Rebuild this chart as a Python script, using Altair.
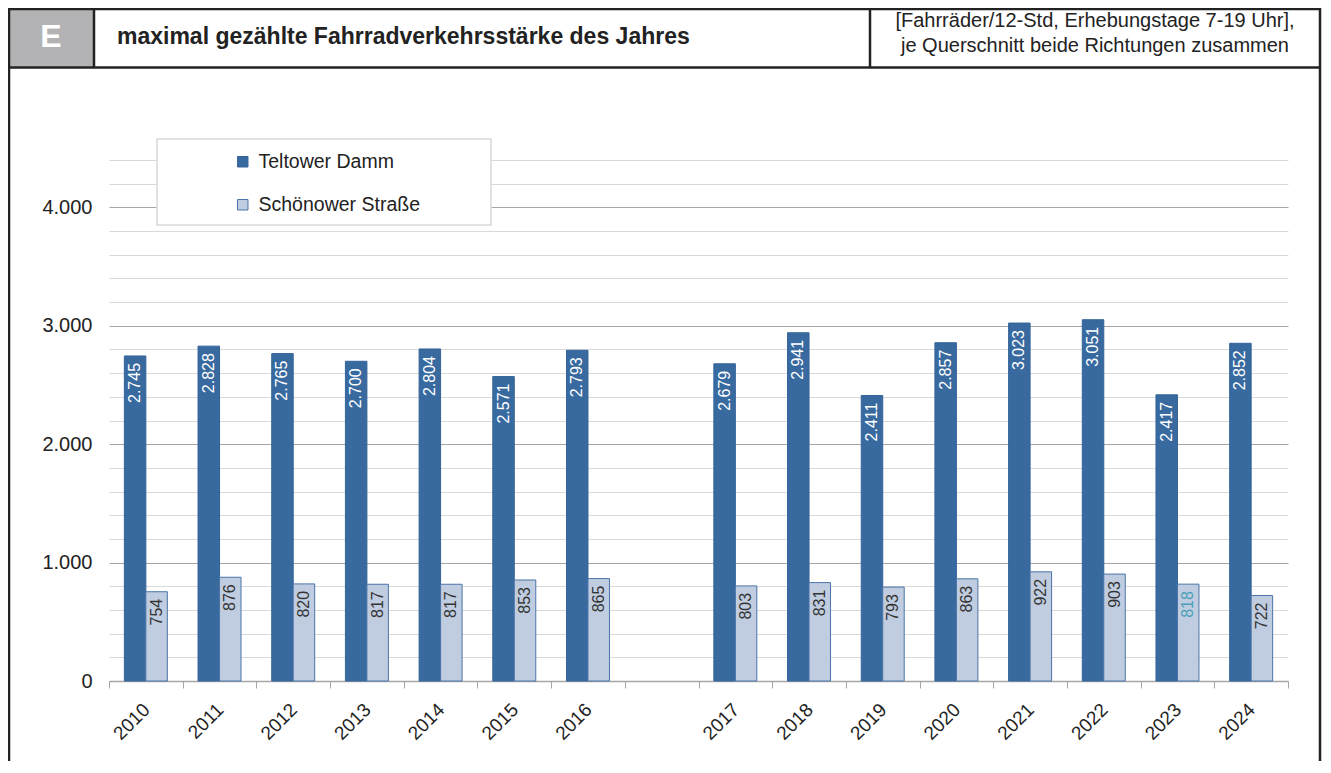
import altair as alt
import pandas as pd

# ---- data ----
years = ["2010", "2011", "2012", "2013", "2014", "2015", "2016",
         "2017", "2018", "2019", "2020", "2021", "2022", "2023", "2024"]
teltower = [2745, 2828, 2765, 2700, 2804, 2571, 2793,
            2679, 2941, 2411, 2857, 3023, 3051, 2417, 2852]
schoenower = [754, 876, 820, 817, 817, 853, 865,
              803, 831, 793, 863, 922, 903, 818, 722]
series_names = ["Teltower Damm", "Schönower Straße"]
x_domain = years[:7] + [" "] + years[7:]   # blank slot between 2016 and 2017

rows = []
for y, a, b in zip(years, teltower, schoenower):
    rows.append({"year": y, "series": series_names[0], "value": a,
                 "label": f"{a:,}".replace(",", ".")})
    rows.append({"year": y, "series": series_names[1], "value": b,
                 "label": f"{b:,}".replace(",", ".")})
df = pd.DataFrame(rows)

FONT = "Liberation Sans"
DARK = "#386a9f"
LIGHT = "#c0cde0"

W, H = 1179, 521
PL, PT, PR, PB = 101, 152, 34, 80

x_enc = alt.X("year:N", sort=x_domain,
              scale=alt.Scale(domain=x_domain, paddingInner=0, paddingOuter=0),
              axis=alt.Axis(title=None, labelAngle=-45, labelAlign="right",
                            labelBaseline="top", labelFontSize=19, labelColor="#222",
                            labelPadding=12, labelOffset=-6, tickBand="extent", tickSize=7,
                            tickColor="#a6a6a6", domainColor="#a6a6a6",
                            domainWidth=1.5, grid=False))
xo_enc = alt.XOffset("series:N", sort=series_names,
                     scale=alt.Scale(domain=series_names, paddingInner=0, paddingOuter=0.714))
y_enc = alt.Y("value:Q",
              scale=alt.Scale(domain=[0, 4400], nice=False),
              axis=alt.Axis(title=None, values=list(range(0, 4401, 200)),
                            labelExpr="datum.value % 1000 === 0 ? replace(format(datum.value, ','), ',', '.') : ''",
                            labelFontSize=20, labelColor="#222", labelPadding=17,
                            ticks=False, domain=False, grid=True,
                            gridColor={"condition": {"test": "datum.value % 1000 === 0", "value": "#a6a6a6"},
                                       "value": "#d9d9d9"},
                            gridWidth=1))

base = alt.Chart(df)

bars = base.mark_bar(strokeWidth=1).encode(
    x=x_enc, xOffset=xo_enc, y=y_enc,
    fill=alt.Fill("series:N", sort=series_names,
                  scale=alt.Scale(domain=series_names, range=[DARK, LIGHT]),
                  legend=alt.Legend(orient="none", legendX=124, legendY=-8, title=None,
                                    symbolType="square", symbolSize=110, labelFontSize=19.5,
                                    labelColor="#222", labelFont=FONT, rowPadding=22,
                                    labelOffset=6, labelLimit=400, padding=0,
                                    symbolStrokeColor="#4a74a8", symbolStrokeWidth=1)),
    stroke=alt.Stroke("series:N", sort=series_names,
                      scale=alt.Scale(domain=series_names, range=["#34649a", "#4a74a8"]),
                      legend=None),
)

txt_dark = base.transform_filter(f"datum.series === '{series_names[0]}'").mark_text(
    angle=270, align="right", baseline="middle", yOffset=7, fontSize=16, font=FONT,
    color="white").encode(x=x_enc, xOffset=xo_enc, y=y_enc, text="label:N")

txt_light = base.transform_filter(f"datum.series === '{series_names[1]}'").mark_text(
    angle=270, align="right", baseline="middle", yOffset=7, fontSize=16, font=FONT).encode(
    x=x_enc, xOffset=xo_enc, y=y_enc, text="label:N",
    color=alt.condition("datum.year === '2023'", alt.value("#4aa0b8"), alt.value("#333333")))

one = alt.Data(values=[{"k": 1}])

# legend frame
legend_box = alt.Chart(one).mark_rect(fill="white", stroke="#d9d9d9", strokeWidth=1.5).encode(
    x=alt.value(48), x2=alt.value(382), y=alt.value(-21), y2=alt.value(65))

# header / frame decoration (pixel positions relative to plot origin)
FRAME = "#222222"
e_box = alt.Chart(one).mark_rect(fill="#b3b3b5").encode(
    x=alt.value(-100), x2=alt.value(-15), y=alt.value(-151), y2=alt.value(-93))


def rule(x1, y1, x2, y2, w=2.5):
    return alt.Chart(one).mark_rule(color=FRAME, strokeWidth=w).encode(
        x=alt.value(x1), x2=alt.value(x2), y=alt.value(y1), y2=alt.value(y2))


frame = [
    rule(-101, -151, 1212, -151),          # top
    rule(-101, -92.5, 1212, -92.5),        # header bottom
    rule(-100, -152, -100, H + PB),        # left
    rule(1211, -152, 1211, H + PB),        # right
    rule(-15, -151, -15, -93),             # after E
    rule(761, -151, 761, -93),             # before unit text
]


def label(text, x, y, size, weight="normal", color="#222222", align="center"):
    return alt.Chart(one).mark_text(text=text, fontSize=size, fontWeight=weight, font=FONT,
                                    color=color, align=align, baseline="middle").encode(
        x=alt.value(x), y=alt.value(y))


texts = [
    label("E", -58, -123, 32, "bold", "white"),
    label("maximal gezählte Fahrradverkehrsstärke des Jahres", 8, -123, 23, "bold", "#222222", "left"),
    label("[Fahrräder/12-Std, Erhebungstage 7-19 Uhr],", 986, -139, 20),
    label("je Querschnitt beide Richtungen zusammen", 986, -114, 20),
]

chart = alt.layer(
    e_box, *frame, *texts, bars, txt_dark, txt_light, legend_box
).properties(
    width=W, height=H,
    autosize=alt.AutoSizeParams(type="none"),
    padding={"left": PL, "top": PT, "right": PR, "bottom": PB},
    background="white",
).configure(font=FONT).configure_view(strokeWidth=0)

chart.save("out.html", embed_options={"renderer": "svg", "actions": False})
